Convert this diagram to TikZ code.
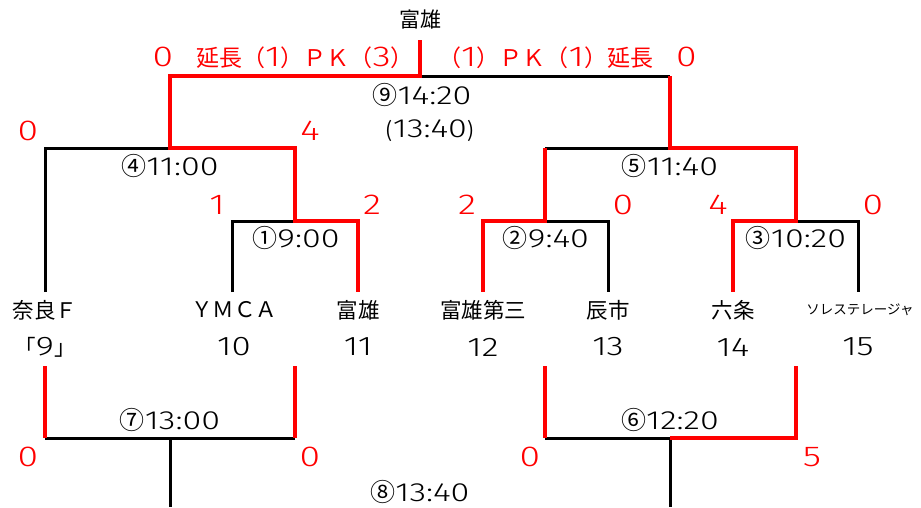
\documentclass[tikz,border=0pt]{standalone}
\usepackage{fontspec}
\setmainfont{Noto Sans CJK JP}
\newfontfamily\digitfont[FakeStretch=1.3,Scale=1.25]{Fira Sans Light}
\newcommand\dg[1]{{\digitfont #1}}
\newcommand\cn[1]{{\fontsize{25}{25}\selectfont #1}}
\definecolor{winred}{RGB}{255,0,0}
\begin{document}
\begin{tikzpicture}[x=1pt,y=-1pt,
  blk/.style={draw=black,line width=3pt,line join=miter},
  rd/.style={draw=winred,line width=4.5pt,line join=miter},
  lbl/.style={font=\fontsize{21}{21}\selectfont,inner sep=0pt,text=black},
  ext/.style={font=\fontsize{23}{23}\selectfont,inner sep=0pt,text=winred},
  sc/.style={font=\fontsize{23}{23}\selectfont\digitfont,inner sep=0pt,text=winred},
  team/.style={font=\fontsize{21.5}{21.5}\selectfont,inner sep=0pt,text=black}]
\useasboundingbox (0,0) rectangle (921,507);
% coordinates
\foreach \n/\x in {1/45,2/232,3/358,4/483,5/608,6/733,7/858}{
  \coordinate (t\n) at (\x,292);
}
\coordinate (bb1) at (45,366); \coordinate (bb2) at (295,366);
\coordinate (bb3) at (545,366); \coordinate (bb4) at (796,366);
\coordinate (m1l) at (232,221); \coordinate (m1c) at (295,221); \coordinate (m1r) at (358,221);
\coordinate (m2l) at (483,221); \coordinate (m2c) at (545,221); \coordinate (m2r) at (608,221);
\coordinate (m3l) at (733,221); \coordinate (m3c) at (796,221); \coordinate (m3r) at (858,221);
\coordinate (m4l) at (45,148); \coordinate (m4c) at (170,148); \coordinate (m4r) at (295,148);
\coordinate (m5l) at (545,148); \coordinate (m5c) at (670,148); \coordinate (m5r) at (796,148);
\coordinate (m9l) at (170,76); \coordinate (m9c) at (420,76); \coordinate (m9r) at (670,76);
\coordinate (champ) at (420,40);
\coordinate (m7l) at (45,438); \coordinate (m7c) at (170,438); \coordinate (m7r) at (295,438);
\coordinate (m7d) at (170,507);
\coordinate (m6l) at (545,438); \coordinate (m6c) at (670,438); \coordinate (m6r) at (796,438);
\coordinate (m6d) at (670,507);
% black lines
\draw[blk] (m9c) -- (m9r);
\draw[blk] (t1) -- (m4l) -- (m4c);
\draw[blk] (t2) -- (m1l) -- (m1c);
\draw[blk] (m5l) -- (m5c);
\draw[blk] (m2c) -- (m2r) -- (t5);
\draw[blk] (m3c) -- (m3r) -- (t7);
\draw[blk] (m7l) -- (m7r);
\draw[blk] (m7c) -- (m7d);
\draw[blk] (m6l) -- (m6c);
\draw[blk] (m6c) -- (m6d);
% red lines
\draw[rd] (champ) -- (m9c) -- (m9l) -- (m4c) -- (m4r) -- (m1c) -- (m1r) -- (t3);
\draw[rd] (m9r) -- (m5c) -- (m5r) -- (m3c) -- (m3l) -- (t6);
\draw[rd] (m5l) -- (m2c) -- (m2l) -- (t4);
\draw[rd] (bb1) -- (m7l);
\draw[rd] (bb2) -- (m7r);
\draw[rd] (bb3) -- (m6l);
\draw[rd] (bb4) -- (m6r) -- (m6c);
% top texts
\node[lbl] (champname) at (420,20) {富雄};
\node[ext,anchor=east] (sl9) at (414,58) {\dg{0}　延長（\dg{1}）ＰＫ（\dg{3}）};
\node[ext,anchor=west] (sr9) at (438,58) {（\dg{1}）ＰＫ（\dg{1}）延長　\dg{0}};
\node[lbl] (lt9) at (422,95) {\cn{⑨}\dg{14:20}};
\node[lbl] (lt9b) at (430,131) {(\dg{13:40})};
\node[sc] (s4l) at (28,131) {0};
\node[sc] (s4r) at (310,131) {4};
\node[lbl] (lt4) at (170,166) {\cn{④}\dg{11:00}};
\node[lbl] (lt5) at (670,166) {\cn{⑤}\dg{11:40}};
\node[sc] (s1l) at (217,205) {1};
\node[sc] (s1r) at (372,205) {2};
\node[sc] (s2l) at (467,205) {2};
\node[sc] (s2r) at (623,205) {0};
\node[sc] (s3l) at (718,205) {4};
\node[sc] (s3r) at (873,205) {0};
\node[lbl] (tm1) at (296,238) {\cn{①}\dg{9:00}};
\node[lbl] (tm2) at (546,238) {\cn{②}\dg{9:40}};
\node[lbl] (tm3) at (796,238) {\cn{③}\dg{10:20}};
% teams
\node[team] (n1) at (45,310) {奈良Ｆ};
\node[team] (n2) at (234,310) {ＹＭＣＡ};
\node[team] (n3) at (358,310) {富雄};
\node[team] (n4) at (483,310) {富雄第三};
\node[team] (n5) at (608,310) {辰市};
\node[team] (n6) at (733,310) {六条};
\node[inner sep=0pt,font=\fontsize{13.5}{13.5}\selectfont] (n7) at (860,310) {ソレステレージャ};
\node[team] (k1) at (45,347) {「\dg{9}」};
\node[team] (k2) at (234,347) {\dg{10}};
\node[team] (k3) at (358,347) {\dg{11}};
\node[team] (k4) at (483,347) {\dg{12}};
\node[team] (k5) at (608,347) {\dg{13}};
\node[team] (k6) at (733,347) {\dg{14}};
\node[team] (k7) at (858,347) {\dg{15}};
% bottom texts
\node[lbl] (tm7) at (170,420) {\cn{⑦}\dg{13:00}};
\node[lbl] (tm6) at (670,420) {\cn{⑥}\dg{12:20}};
\node[sc] (s7l) at (28,457) {0};
\node[sc] (s7r) at (310,457) {0};
\node[sc] (s6l) at (530,457) {0};
\node[sc] (s6r) at (812,457) {5};
\node[lbl] (tm8) at (420,492) {\cn{⑧}\dg{13:40}};
\end{tikzpicture}
\end{document}
